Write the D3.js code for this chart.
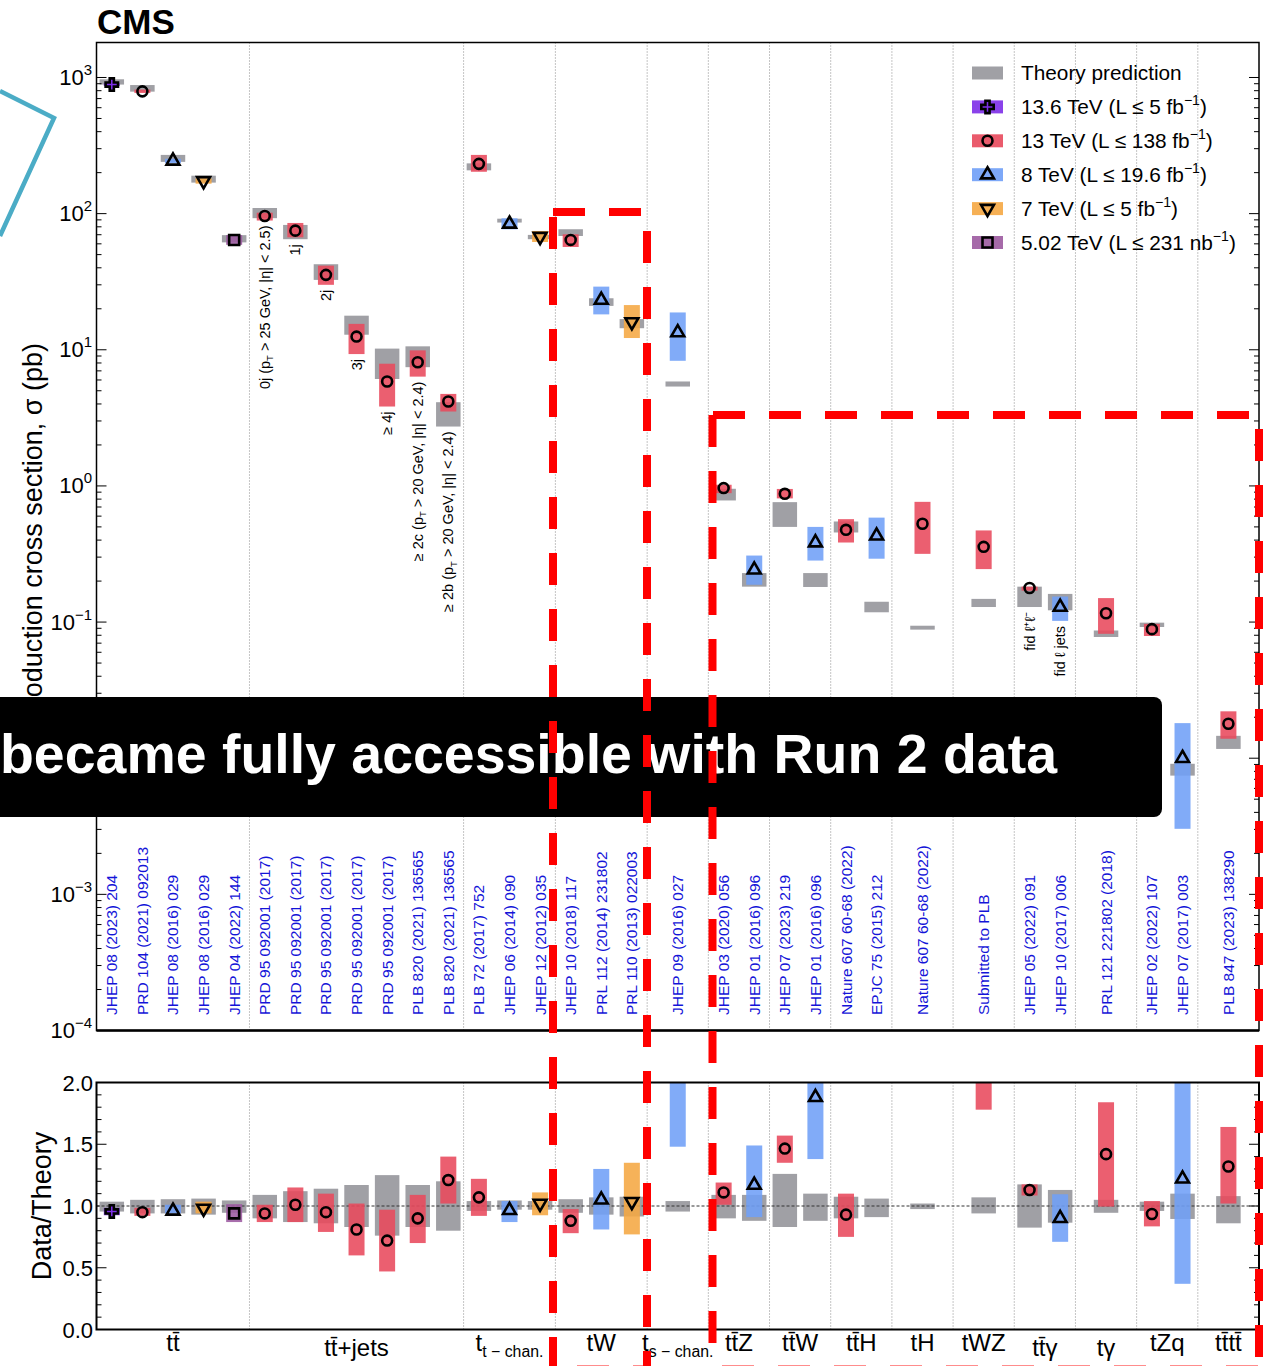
<!DOCTYPE html>
<html><head><meta charset="utf-8">
<script src="https://cdn.jsdelivr.net/npm/d3@7"></script>
<style>
html,body{margin:0;padding:0;background:#fff;overflow:hidden}
svg{display:block}
text{font-family:"Liberation Sans",Arial,Helvetica,sans-serif}
</style></head><body>
<svg id="c" width="1270" height="1366"></svg>
<script>
// ---------------- data ----------------
const groupNames = ["tt\u0304","tt\u0304+jets","t_{t − chan.}","tW","t_{s − chan.}","tt\u0304Z","tt\u0304W","tt\u0304H","tH","tWZ","tt\u0304γ","tγ","tZq","tt\u0304tt\u0304"];
const groupSlots = [5,7,3,3,2,2,2,2,2,2,2,2,2,2];
const energies = ["13.6","13","8","7","5.02"];
const energyColors = ["#7d2ee8","#e8495c","#6f9ff7","#f5a742","#9c5aa0"];
const theoryColor = "#a0a0a5";
const legendLabels = ["Theory prediction","13.6 TeV (L ≤ 5 fb^{−1})","13 TeV (L ≤ 138 fb^{−1})","8 TeV (L ≤ 19.6 fb^{−1})","7 TeV (L ≤ 5 fb^{−1})","5.02 TeV (L ≤ 231 nb^{−1})"];

const measGroup  = [0,0,0,0,0, 1,1,1,1,1,1,1, 2,2,2, 3,3,3, 4, 5,5, 6,6, 7,7, 8, 9, 10,10, 11, 12,12, 13];
const measEnergy = ["13.6","13","8","7","5.02", "13","13","13","13","13","13","13", "13","8","7", "13","8","7", "8", "13","8", "13","8", "13","8", "13", "13", "13","8", "13", "13","8", "13"];

// cross sections (pb)
const xsec   = [887,791,244,174,64, 96,75,35.5,12.5,5.85,8.1,4.17, 232,84,67.8, 64.1,23.2,16.0, 13.4, 0.964,0.242, 0.875,0.383, 0.476,0.430, 0.527, 0.357, 0.178,0.129, 0.116, 0.0887,0.0100, 0.0179];
const xsecLo = [866,770,235,166,59, 89,67,30,9.3,3.83,6.35,3.52, 203,76.7,61.9, 56.9,18.2,12.2, 8.3, 0.885,0.188, 0.81,0.283, 0.384,0.292, 0.317, 0.245, 0.170,0.102, 0.082, 0.079,0.00303, 0.0139];
const xsecHi = [908,815,253,182,69.5, 101.6,85.4,41.5,15.5,7.9,9.9,4.74, 270,92.4,74.6, 70.5,29.1,21.3, 18.8, 1.02,0.308, 0.95,0.50, 0.57,0.585, 0.764, 0.471, 0.182,0.154, 0.150, 0.097,0.0181, 0.0221];
const thLo   = [887,787,240,169,61.5, 92.6,64.9,32.6,12.9,6.1,7.45,2.73, 208,86,64.9, 68.5,21,14.4, 5.37, 0.782,0.182, 0.50,0.181, 0.455,0.118, 0.088, 0.129, 0.129,0.122, 0.0777, 0.092,0.00745, 0.0117];
const thHi   = [970,880,270,190,69.5, 110,82.6,42.5,17.8,10.2,10.6,4.12, 234,91.8,69.8, 76.8,23.9,16.8, 5.85, 0.953,0.229, 0.76,0.229, 0.548,0.141, 0.094, 0.148, 0.182,0.161, 0.0867, 0.099,0.0091, 0.0146];

// data / theory
const ratio     = [0.956,0.95,0.96,0.98,0.94, 0.94,1.01,0.95,0.81,0.72,0.90,1.21, 1.07,0.965,1.02, 0.88,1.05,1.035, 2.41, 1.11,1.17, 1.465,1.88, 0.93,3.3, 5.8, 2.6, 1.13,0.90, 1.42, 0.935,1.22, 1.32];
const ratioLo   = [0.925,0.92,0.94,0.94,0.87, 0.87,0.87,0.79,0.60,0.47,0.70,1.02, 0.92,0.87,0.925, 0.78,0.81,0.77, 1.48, 1.01,0.91, 1.35,1.38, 0.75,2.25, 3.5, 1.78, 1.085,0.71, 0.995, 0.835,0.37, 1.02];
const ratioHi   = [0.985,0.985,1.01,1.035,1.015, 1.01,1.15,1.10,1.02,0.97,1.09,1.40, 1.22,1.04,1.11, 0.975,1.30,1.35, 3.4, 1.19,1.49, 1.57,2.46, 1.10,4.5, 8.5, 3.4, 1.175,1.095, 1.84, 1.04,2.2, 1.64];
const thRatioLo = [0.955,0.94,0.94,0.93,0.945, 0.90,0.87,0.86,0.83,0.76,0.83,0.80, 0.96,0.97,0.97, 0.945,0.93,0.915, 0.955, 0.90,0.88, 0.83,0.88, 0.90,0.91, 0.975, 0.94, 0.825,0.865, 0.945, 0.96,0.895, 0.86];
const thRatioHi = [1.035,1.05,1.055,1.06,1.045, 1.09,1.12,1.14,1.17,1.25,1.17,1.20, 1.04,1.045,1.04, 1.055,1.07,1.075, 1.04, 1.09,1.09, 1.26,1.10, 1.075,1.06, 1.02, 1.07, 1.175,1.13, 1.05, 1.035,1.10, 1.08];

const references = ["JHEP 08 (2023) 204","PRD 104 (2021) 092013","JHEP 08 (2016) 029","JHEP 08 (2016) 029","JHEP 04 (2022) 144",
  "PRD 95 092001 (2017)","PRD 95 092001 (2017)","PRD 95 092001 (2017)","PRD 95 092001 (2017)","PRD 95 092001 (2017)","PLB 820 (2021) 136565","PLB 820 (2021) 136565",
  "PLB 72 (2017) 752","JHEP 06 (2014) 090","JHEP 12 (2012) 035","JHEP 10 (2018) 117","PRL 112 (2014) 231802","PRL 110 (2013) 022003",
  "JHEP 09 (2016) 027","JHEP 03 (2020) 056","JHEP 01 (2016) 096","JHEP 07 (2023) 219","JHEP 01 (2016) 096","Nature 607 60-68 (2022)","EPJC 75 (2015) 212",
  "Nature 607 60-68 (2022)","Submitted to PLB","JHEP 05 (2022) 091","JHEP 10 (2017) 006","PRL 121 221802 (2018)","JHEP 02 (2022) 107","JHEP 07 (2017) 003","PLB 847 (2023) 138290"];

const annotations = ["","","","","", "0j (p_{T} > 25 GeV, |η| < 2.5)","1j","2j","3j","≥ 4j","≥ 2c (p_{T} > 20 GeV, |η| < 2.4)","≥ 2b (p_{T} > 20 GeV, |η| < 2.4)",
  "","","","","","","","","","","","","","","", "fid ℓ⁺ℓ⁻","fid ℓ jets","","","",""];

const yTickExps = [3,2,1,0,-1,-3,-4];   // 10^-2 label is hidden behind the overlay box
const ratioTicks = [0.0,0.5,1.0,1.5,2.0];
const overlayText = "became fully accessible with Run 2 data";

// ---------------- layout ----------------
const svg = d3.select("#c");
const X0=96.5, X1=1259, Y0=42.5, Y1=1030.5, R0=1082.5, R1=1329.5;
const nSlots = d3.sum(groupSlots);
const x  = d3.scaleLinear().domain([0,nSlots]).range([X0,X1]);
const y  = d3.scaleLog().domain([1e-4, Math.pow(10,3.257)]).range([Y1,Y0]);
const yr = d3.scaleLinear().domain([0,2]).range([R1,R0]);
const colorOf = e => energyColors[energies.indexOf(e)];

const slotStart = []; { let a=0; groupSlots.forEach(n=>{slotStart.push(a); a+=n;}); }
const nPts = groupNames.map((_,g)=>measGroup.filter(v=>v===g).length);
const cnt = groupNames.map(()=>0);
const measSlot = measGroup.map(g=>{const i=cnt[g]++; return slotStart[g]+(groupSlots[g]-nPts[g])/2+i+0.5;});
const boundaries = slotStart.slice(1);

function rich(t, s, fs){
  const parts = s.split(/(\^\{[^}]*\}|_\{[^}]*\})/).filter(p=>p.length);
  let back=0;
  parts.forEach(p=>{
    if(p.startsWith("^{")){ t.append("tspan").attr("dy",-fs*0.42).attr("font-size",fs*0.68).text(p.slice(2,-1)); back=fs*0.42; }
    else if(p.startsWith("_{")){ t.append("tspan").attr("dy",fs*0.24).attr("font-size",fs*0.66).text(p.slice(2,-1)); back=-fs*0.24; }
    else { const ts=t.append("tspan").text(p); if(back){ts.attr("dy",back); back=0;} }
  });
}

const symType = {"13.6":d3.symbolCross,"13":d3.symbolCircle,"8":d3.symbolTriangle,"7":d3.symbolTriangle,"5.02":d3.symbolSquare};
const symSize = {"13.6":85,"13":78,"8":72,"7":72,"5.02":100};
function marker(g, e, cx, cy){
  g.append("path").attr("d", d3.symbol(symType[e], symSize[e])())
    .attr("transform", `translate(${cx},${cy})${e==="7"?" rotate(180)":""}`)
    .attr("fill", e==="13.6" ? colorOf(e) : "none")
    .attr("stroke","#000").attr("stroke-width",2.6).attr("stroke-linejoin","miter");
}

const defs = svg.append("defs");
defs.append("clipPath").attr("id","clipTop").append("rect").attr("x",X0).attr("y",Y0).attr("width",X1-X0).attr("height",Y1-Y0);
defs.append("clipPath").attr("id","clipRat").append("rect").attr("x",X0).attr("y",R0).attr("width",X1-X0).attr("height",R1-R0);

const GW=24.5, CW=16;

// ---------------- top panel ----------------
const topG = svg.append("g");
boundaries.forEach(b=>{
  topG.append("line").attr("x1",x(b)).attr("x2",x(b)).attr("y1",Y0).attr("y2",Y1)
    .attr("stroke","#8a8a8a").attr("stroke-width",1).attr("stroke-dasharray","1,2");
});
const tp = topG.append("g").attr("clip-path","url(#clipTop)");
measSlot.forEach((s,i)=>{
  const cx=x(s);
  tp.append("rect").attr("x",cx-GW/2).attr("width",GW).attr("y",y(thHi[i])).attr("height",Math.max(2,y(thLo[i])-y(thHi[i]))).attr("fill",theoryColor);
});
measSlot.forEach((s,i)=>{
  const cx=x(s);
  tp.append("rect").attr("x",cx-CW/2).attr("width",CW).attr("y",y(xsecHi[i])).attr("height",y(xsecLo[i])-y(xsecHi[i]))
    .attr("fill",colorOf(measEnergy[i])).attr("fill-opacity",0.88);
});
measSlot.forEach((s,i)=>marker(tp, measEnergy[i], x(s), y(xsec[i])));

// reference labels
measSlot.forEach((s,i)=>{
  topG.append("text").attr("transform",`translate(${x(s)+5.5},1015) rotate(-90)`)
    .attr("font-size",15.5).attr("fill","#1414d8").text(references[i]);
});
// annotations
measSlot.forEach((s,i)=>{
  if(!annotations[i]) return;
  const yb = Math.max(y(xsecLo[i]), y(thLo[i])) + 5;
  const t = topG.append("text").attr("transform",`translate(${x(s)+5},${yb}) rotate(-90)`)
    .attr("font-size",14.5).attr("text-anchor","end").attr("fill","#000");
  rich(t, annotations[i], 14.5);
});

// axes ticks
const tk = svg.append("g").attr("stroke","#000").attr("stroke-width",1);
for(let d=-4; d<=3; d++){
  for(let k=1;k<=9;k++){
    const v=k*Math.pow(10,d); if(v>y.domain()[1]) continue;
    const yy=y(v), L = k===1?10:5;
    tk.append("line").attr("x1",X0).attr("x2",X0+L).attr("y1",yy).attr("y2",yy);
    tk.append("line").attr("x1",X1).attr("x2",X1-L).attr("y1",yy).attr("y2",yy);
  }
}
for(let i=0;i<=20;i++){
  const v=i/10, yy=yr(v), L = (i%5===0)?10:5;
  tk.append("line").attr("x1",X0).attr("x2",X0+L).attr("y1",yy).attr("y2",yy);
  tk.append("line").attr("x1",X1).attr("x2",X1-L).attr("y1",yy).attr("y2",yy);
}
yTickExps.forEach(e=>{
  const t = svg.append("text").attr("x",92).attr("y",y(Math.pow(10,e))+7.5).attr("font-size",22).attr("text-anchor","end");
  t.append("tspan").text("10");
  t.append("tspan").attr("dy",-10).attr("font-size",15).text(e<0?"−"+(-e):String(e));
});
ratioTicks.forEach(v=>{
  svg.append("text").attr("x",93).attr("y",yr(v)+8).attr("font-size",22).attr("text-anchor","end").text(v.toFixed(1));
});

// frames
svg.append("rect").attr("x",X0).attr("y",Y0).attr("width",X1-X0).attr("height",Y1-Y0).attr("fill","none").attr("stroke","#000").attr("stroke-width",1.5);
svg.append("line").attr("x1",X0).attr("x2",X1).attr("y1",Y1).attr("y2",Y1).attr("stroke","#000").attr("stroke-width",2.5);

// legend
const lg = svg.append("g");
const legY0=73, legDY=33.9;
legendLabels.forEach((lab,i)=>{
  const cy=legY0+i*legDY;
  lg.append("rect").attr("x",972).attr("y",cy-6.5).attr("width",31).attr("height",13)
    .attr("fill", i===0?theoryColor:energyColors[i-1]).attr("fill-opacity", i===0?1:0.9);
  if(i>0) marker(lg, energies[i-1], 987.5, cy);
  const t = lg.append("text").attr("x",1021).attr("y",cy+7).attr("font-size",20.8);
  rich(t, lab, 20.8);
});

// CMS + axis titles
svg.append("text").attr("x",97).attr("y",34).attr("font-size",35).attr("font-weight","bold").text("CMS");
svg.append("text").attr("transform","translate(42,343) rotate(-90)").attr("text-anchor","end").attr("font-size",27).text("Production cross section, σ (pb)");
svg.append("text").attr("transform","translate(51,1206) rotate(-90)").attr("text-anchor","middle").attr("font-size",27).text("Data/Theory");

// ---------------- ratio panel ----------------
const rat = svg.append("g");
boundaries.forEach(b=>{
  rat.append("line").attr("x1",x(b)).attr("x2",x(b)).attr("y1",R0).attr("y2",R1)
    .attr("stroke","#8a8a8a").attr("stroke-width",1).attr("stroke-dasharray","1,2");
});
const rp = rat.append("g").attr("clip-path","url(#clipRat)");
measSlot.forEach((s,i)=>{
  const cx=x(s);
  rp.append("rect").attr("x",cx-GW/2).attr("width",GW).attr("y",yr(thRatioHi[i])).attr("height",yr(thRatioLo[i])-yr(thRatioHi[i])).attr("fill",theoryColor);
});
rp.append("line").attr("x1",X0).attr("x2",X1).attr("y1",yr(1)).attr("y2",yr(1)).attr("stroke","#333").attr("stroke-width",1).attr("stroke-dasharray","3,2");
measSlot.forEach((s,i)=>{
  const cx=x(s);
  rp.append("rect").attr("x",cx-CW/2).attr("width",CW).attr("y",yr(ratioHi[i])).attr("height",yr(ratioLo[i])-yr(ratioHi[i]))
    .attr("fill",colorOf(measEnergy[i])).attr("fill-opacity",0.88);
});
measSlot.forEach((s,i)=>marker(rp, measEnergy[i], x(s), yr(ratio[i])));
svg.append("rect").attr("x",X0).attr("y",R0).attr("width",X1-X0).attr("height",R1-R0).attr("fill","none").attr("stroke","#000").attr("stroke-width",2);

groupNames.forEach((g,i)=>{
  const cx = x(slotStart[i]+groupSlots[i]/2);
  const low = /[jγ]/.test(g) ? 5 : 0;
  const t = svg.append("text").attr("x",cx).attr("y",1351+low).attr("font-size",24).attr("text-anchor","middle");
  rich(t, g, 24);
});

// ---------------- overlays ----------------
svg.append("rect").attr("x",-12).attr("y",697).attr("width",1174).attr("height",120).attr("rx",8).attr("fill","#000");
svg.append("text").attr("x",0).attr("y",773).attr("font-size",55).attr("font-weight","bold").attr("fill","#fff")
  .attr("textLength",1057).attr("lengthAdjust","spacingAndGlyphs").text(overlayText);

const red = svg.append("g").attr("stroke","#ff0000").attr("stroke-width",8).attr("stroke-dasharray","32,24").attr("fill","none");
red.append("line").attr("x1",553).attr("x2",647).attr("y1",212).attr("y2",212);
red.append("line").attr("x1",553).attr("x2",553).attr("y1",217).attr("y2",1380);
red.append("line").attr("x1",647).attr("x2",647).attr("y1",231).attr("y2",1380);
red.append("line").attr("x1",713).attr("x2",1259).attr("y1",415).attr("y2",415);
red.append("line").attr("x1",712.5).attr("x2",712.5).attr("y1",415).attr("y2",1380);
red.append("line").attr("x1",1259).attr("x2",1259).attr("y1",429).attr("y2",1380);
const redB = svg.append("g").attr("stroke","#ff0000").attr("stroke-opacity",0.45).attr("stroke-width",8).attr("stroke-dasharray","32,24");
redB.append("line").attr("x1",577).attr("x2",647).attr("y1",1369).attr("y2",1369);
redB.append("line").attr("x1",722).attr("x2",1259).attr("y1",1369).attr("y2",1369);

svg.append("polyline").attr("points","0,91 54,118 0,236").attr("fill","none").attr("stroke","#4bacc6").attr("stroke-width",4.5);
</script>
</body></html>
